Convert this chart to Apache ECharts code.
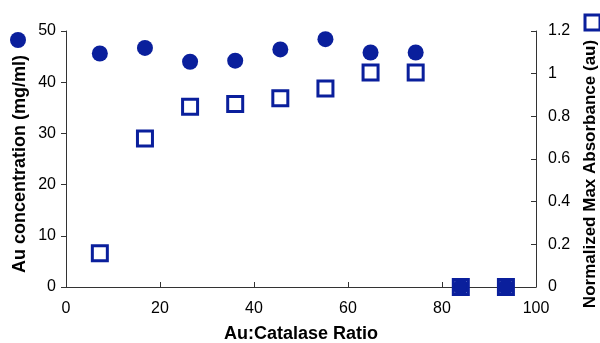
<!DOCTYPE html>
<html>
<head>
<meta charset="utf-8">
<script src="https://cdn.jsdelivr.net/npm/echarts@6/dist/echarts.min.js"></script>
<style>
  html, body { margin: 0; padding: 0; background: #fff; }
  #chart { width: 600px; height: 343px; }
</style>
</head>
<body>
<div id="chart"></div>
<script>
// Au:Catalase ratio for each sample
const ratio = [7.2, 16.8, 26.4, 36.0, 45.6, 55.2, 64.8, 74.4, 84.0, 93.6];
// Gold concentration (mg/ml), left axis
const auConc = [45.6, 46.7, 44.0, 44.2, 46.4, 48.4, 45.8, 45.8, 0, 0];
// Normalized maximum absorbance (au), right axis
const absorbance = [0.158, 0.696, 0.845, 0.858, 0.885, 0.931, 1.006, 1.006, 0, 0];
// Axis titles
const xTitle = 'Au:Catalase Ratio';
const yLeftTitle = 'Au concentration (mg/ml)';
const yRightTitle = 'Normalized Max Absorbance (au)';

const BLUE = '#0a1f9c';
const FONT = '"Liberation Sans", Arial, Helvetica, sans-serif';

const chart = echarts.init(document.getElementById('chart'));

const axisLine = { show: true, lineStyle: { color: '#333', width: 1 } };
const tickLabel = { color: '#000', fontSize: 16, fontFamily: FONT };
const titleStyle = { color: '#000', fontSize: 18, fontWeight: 'bold', fontFamily: FONT };

// Vertical axis title, rotated to read bottom-to-top
function verticalTitle(text, x, y, size) {
  return {
    type: 'text', x: x, y: y, rotation: Math.PI / 2,
    style: {
      text: text, fill: '#000', font: 'bold ' + size + 'px ' + FONT,
      align: 'center', verticalAlign: 'middle'
    }
  };
}

chart.setOption({
  animation: false,
  backgroundColor: '#fff',
  grid: { left: 66, right: 64, top: 31, bottom: 56, containLabel: false, outerBoundsMode: 'none' },
  legend: [
    {
      left: 10, top: 32, padding: 0, orient: 'vertical',
      itemWidth: 16, itemHeight: 16,
      formatter: () => '',
      data: [{ name: 'Au concentration', icon: 'circle', itemStyle: { color: BLUE, opacity: 1 } }]
    },
    {
      left: 583.5, top: 13.5, padding: 0, orient: 'vertical',
      itemWidth: 15, itemHeight: 15,
      formatter: () => '',
      data: [{ name: 'Normalized Max Absorbance', icon: 'rect',
               itemStyle: { color: '#fff', borderColor: BLUE, borderWidth: 3, opacity: 1 } }]
    }
  ],
  graphic: [
    verticalTitle(yLeftTitle, 20, 164, 18),
    verticalTitle(yRightTitle, 590, 174, 17)
  ],
  xAxis: {
    type: 'value', min: 0, max: 100, interval: 20,
    name: xTitle, nameLocation: 'middle', nameGap: 38,
    nameTextStyle: titleStyle,
    axisLine: axisLine,
    axisTick: { show: true, inside: true, length: 5, lineStyle: { color: '#333' } },
    axisLabel: Object.assign({ margin: 14 }, tickLabel),
    splitLine: { show: false }
  },
  yAxis: [
    {
      type: 'value', min: 0, max: 50, interval: 10, position: 'left',
      axisLine: axisLine,
      axisTick: { show: true, inside: false, length: 5, lineStyle: { color: '#333' } },
      axisLabel: Object.assign({ margin: 10 }, tickLabel),
      splitLine: { show: false }
    },
    {
      type: 'value', min: 0, max: 1.2, interval: 0.2, position: 'right',
      axisLine: axisLine,
      axisTick: { show: true, inside: true, length: 5, lineStyle: { color: '#333' } },
      axisLabel: Object.assign({ margin: 12 }, tickLabel),
      splitLine: { show: false }
    }
  ],
  series: [
    {
      name: 'Au concentration', type: 'scatter', yAxisIndex: 0,
      symbol: 'circle', symbolSize: 16,
      itemStyle: { color: BLUE, opacity: 1 },
      data: ratio.map((r, i) => [r, auConc[i]]),
      z: 2
    },
    {
      name: 'Normalized Max Absorbance', type: 'scatter', yAxisIndex: 1,
      symbol: 'rect', symbolSize: 15,
      itemStyle: { color: 'rgba(255,255,255,0)', borderColor: BLUE, borderWidth: 3, opacity: 1 },
      data: ratio.map((r, i) => [r, absorbance[i]]),
      z: 3
    }
  ]
});
</script>
</body>
</html>
